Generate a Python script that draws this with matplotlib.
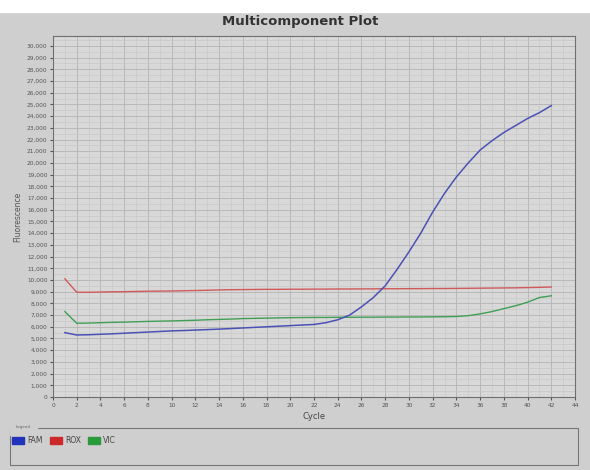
import numpy as np
import matplotlib.pyplot as plt
from matplotlib.ticker import FuncFormatter, MultipleLocator
from matplotlib.patches import Rectangle

cycles = list(range(1, 43))

fam = [5500, 5300, 5320, 5360, 5400, 5450, 5500, 5550, 5600, 5650,
       5680, 5720, 5760, 5800, 5850, 5900, 5950, 6000, 6050, 6100,
       6150, 6200, 6350, 6600, 7000, 7700, 8500, 9500, 10900, 12400,
       14000, 15800, 17400, 18800, 20000, 21100, 21900, 22600, 23200, 23800,
       24300, 24900]
rox = [10100, 8950, 8950, 8970, 8990, 9000, 9020, 9040, 9050, 9060,
       9080, 9100, 9120, 9150, 9170, 9180, 9190, 9200, 9200, 9210,
       9210, 9220, 9220, 9230, 9230, 9240, 9240, 9250, 9250, 9260,
       9260, 9270, 9270, 9280, 9290, 9300, 9310, 9320, 9330, 9350,
       9370, 9400]
vic = [7300, 6300, 6320, 6350, 6380, 6400, 6430, 6460, 6480, 6500,
       6530, 6560, 6600, 6630, 6660, 6700, 6720, 6740, 6760, 6780,
       6790, 6800, 6800, 6810, 6810, 6820, 6820, 6830, 6830, 6840,
       6840, 6850, 6860, 6880, 6950, 7100, 7300, 7550, 7800, 8100,
       8500, 8650]

fig = plt.figure(figsize=(5.9, 4.7), dpi=100, facecolor="#cfcfcf")
fig.patches.append(Rectangle((0, 0.975), 1, 0.025, transform=fig.transFigure,
                             color="white", zorder=0))

ax = fig.add_axes([53/590, 1 - 397/470, (575-53)/590, (397-36)/470])
ax.set_facecolor("#d8d8d8")

ax.plot(cycles, rox, color="#d05a5a", lw=1)
ax.plot(cycles, vic, color="#3f9f55", lw=1)
ax.plot(cycles, fam, color="#4a52b4", lw=1.1)

ax.set_xlim(0, 44)
ax.set_ylim(0, 30850)
ax.xaxis.set_major_locator(MultipleLocator(2))
ax.xaxis.set_minor_locator(MultipleLocator(1))
ax.yaxis.set_major_locator(MultipleLocator(1000))
ax.yaxis.set_minor_locator(MultipleLocator(500))
ax.yaxis.set_major_formatter(FuncFormatter(lambda v, p: f"{int(v):,}"))
ax.tick_params(axis="both", which="major", labelsize=4.2, length=2,
               colors="#555555", pad=2)
ax.tick_params(axis="both", which="minor", length=0)
ax.grid(which="major", color="#b4b4b4", lw=0.6)
ax.grid(which="minor", color="#c6c6c6", lw=0.4)
for s in ax.spines.values():
    s.set_color("#707070")
    s.set_linewidth(0.8)

ax.set_xlabel("Cycle", fontsize=6, color="#444444", labelpad=3)
ax.set_ylabel("Fluorescence", fontsize=5.5, color="#555555", labelpad=3)
fig.text(300/590, 1 - 22/470, "Multicomponent Plot", ha="center", va="center",
         fontsize=9.5, fontweight="bold", color="#333333")

# legend panel
fig.patches.append(Rectangle((10/590, 1 - 465/470), 568/590, 37/470,
                             transform=fig.transFigure, fill=False,
                             ec="#777777", lw=0.8))
fig.text(16/590, 1 - 427/470, "Legend", fontsize=3, color="#666666",
         va="center", backgroundcolor="#cfcfcf")
names = ["FAM", "ROX", "VIC"]
colors = ["#2233bb", "#cc2a2a", "#2a9a3a"]
x0 = 12
for n, c in zip(names, colors):
    fig.patches.append(Rectangle((x0/590, 1 - 444/470), 12/590, 7/470,
                                 transform=fig.transFigure, color=c))
    fig.text((x0 + 15)/590, 1 - 440.5/470, n, fontsize=5.5, color="#444444",
             va="center")
    x0 += 38

fig.savefig("out.png", dpi=100, facecolor=fig.get_facecolor())
